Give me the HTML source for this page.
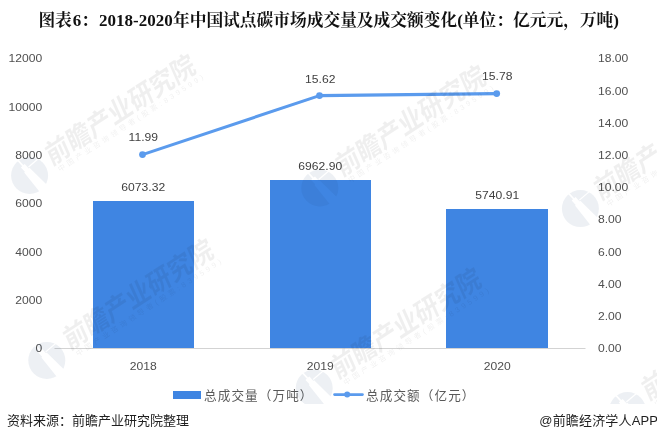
<!DOCTYPE html>
<html lang="zh-CN">
<head>
<meta charset="utf-8">
<title>图表6：2018-2020年中国试点碳市场成交量及成交额变化</title>
<style>
html,body{margin:0;padding:0;background:#fff;}
body{width:657px;height:442px;overflow:hidden;position:relative;}
svg{display:block;position:absolute;left:0;top:0;}
.ax{font-family:"Liberation Sans","Noto Sans CJK SC",sans-serif;font-size:11.3px;fill:#4f4f4f;}
.dl{font-family:"Liberation Sans","Noto Sans CJK SC",sans-serif;font-size:11.3px;fill:#404040;}
.lg{font-family:"Liberation Sans","Noto Sans CJK SC",sans-serif;font-size:12.6px;fill:#595959;letter-spacing:1.1px;}
.ft{font-family:"Liberation Sans","Noto Sans CJK SC",sans-serif;font-size:13px;fill:#1f1f1f;}
.title{font-family:"Liberation Serif","Noto Serif CJK SC",serif;font-weight:700;font-size:16.73px;fill:#111;}
.la{font-size:17px;font-weight:700;}
.wmb{font-family:"Liberation Sans","Noto Sans CJK SC",sans-serif;font-weight:bold;font-size:27px;}
.wms{font-family:"Liberation Sans","Noto Sans CJK SC",sans-serif;font-size:7.3px;}
</style>
</head>
<body>
<svg width="657" height="442" viewBox="0 0 657 442">
<defs>
<g id="wl">
  <clipPath id="lgc"><circle cx="-28.0" cy="27.0" r="18.5"/></clipPath>
  <path clip-path="url(#lgc)" fill="#1e3c78" fill-opacity="0.078" fill-rule="evenodd" d="M-48.5,6.5 h41.0 v41.0 h-41.0 Z M-40.9,9.2 L-34.2,16.6 L-32.8,15.4 L-28.8,19.9 L-28.1,19.2 L-9.5,37.4 L-17.2,44.3 L-33.4,24.0 L-32.7,23.3 L-36.7,18.9 L-35.4,17.7 L-42.1,10.3 Z M-29.5,18.1 L-18.9,9.1 L-18.1,9.9 L-28.7,18.9 Z"/>
</g>
<g id="wm">
  <g transform="rotate(-33)" fill="#000" fill-opacity="0.063">
    <text class="wmb" x="-12.6" y="10.3" transform="skewX(-9)" textLength="174" lengthAdjust="spacingAndGlyphs">前瞻产业研究院</text>
    <text class="wms" x="-10.2" y="20.1" textLength="171.5" lengthAdjust="spacing">中国产业咨询领导者(股票:839599)</text>
  </g>
</g>
<clipPath id="wmclip"><rect x="0" y="0" width="657" height="404"/></clipPath>
</defs>
<rect width="657" height="442" fill="#fff"/>

<text class="title" x="38.4" y="26.4">图表<tspan class="la" dx="0.9">6</tspan>：<tspan class="la" dx="1">2018-2020</tspan><tspan dx="0.3">年中国试点碳市场成交量及成交额变化</tspan><tspan class="la">(</tspan>单位：亿元元，万吨<tspan class="la">)</tspan></text>
<rect x="54.5" y="348" width="531" height="1" fill="#d3d3d3"/>
<rect x="93" y="201" width="101" height="147" fill="#3f85e2"/>
<rect x="270" y="180" width="101" height="168" fill="#3f85e2"/>
<rect x="446" y="209" width="102" height="139" fill="#3f85e2"/>
<polyline points="142.5,154.6 319.5,95.6 496.7,93.6" fill="none" stroke="#5b9bed" stroke-width="3.1" stroke-linejoin="round" stroke-linecap="round"/>
<circle cx="142.5" cy="154.6" r="3.4" fill="#5b9bed"/>
<circle cx="319.5" cy="95.6" r="3.4" fill="#5b9bed"/>
<circle cx="496.7" cy="93.6" r="3.4" fill="#5b9bed"/>
<text class="ax" transform="translate(42.3,351.5) scale(1.075,1)" text-anchor="end">0</text>
<text class="ax" transform="translate(42.3,304.17) scale(1.075,1)" text-anchor="end">2000</text>
<text class="ax" transform="translate(42.3,255.83) scale(1.075,1)" text-anchor="end">4000</text>
<text class="ax" transform="translate(42.3,206.6) scale(1.075,1)" text-anchor="end">6000</text>
<text class="ax" transform="translate(42.3,158.87) scale(1.075,1)" text-anchor="end">8000</text>
<text class="ax" transform="translate(42.3,110.83) scale(1.075,1)" text-anchor="end">10000</text>
<text class="ax" transform="translate(42.3,61.8) scale(1.075,1)" text-anchor="end">12000</text>
<text class="ax" transform="translate(598,352.1) scale(1.075,1)" text-anchor="start">0.00</text>
<text class="ax" transform="translate(598,319.88) scale(1.075,1)" text-anchor="start">2.00</text>
<text class="ax" transform="translate(598,287.66) scale(1.075,1)" text-anchor="start">4.00</text>
<text class="ax" transform="translate(598,256.33) scale(1.075,1)" text-anchor="start">6.00</text>
<text class="ax" transform="translate(598,223.21) scale(1.075,1)" text-anchor="start">8.00</text>
<text class="ax" transform="translate(598,190.99) scale(1.075,1)" text-anchor="start">10.00</text>
<text class="ax" transform="translate(598,158.77) scale(1.075,1)" text-anchor="start">12.00</text>
<text class="ax" transform="translate(598,126.54) scale(1.075,1)" text-anchor="start">14.00</text>
<text class="ax" transform="translate(598,95.22) scale(1.075,1)" text-anchor="start">16.00</text>
<text class="ax" transform="translate(598,62.1) scale(1.075,1)" text-anchor="start">18.00</text>
<text class="ax" transform="translate(143.3,369.6) scale(1.075,1)" text-anchor="middle">2018</text>
<text class="ax" transform="translate(320.3,369.6) scale(1.075,1)" text-anchor="middle">2019</text>
<text class="ax" transform="translate(497.3,369.6) scale(1.075,1)" text-anchor="middle">2020</text>
<text class="dl" transform="translate(143.3,191.1) scale(1.075,1)" text-anchor="middle">6073.32</text>
<text class="dl" transform="translate(320.3,170.2) scale(1.075,1)" text-anchor="middle">6962.90</text>
<text class="dl" transform="translate(497.3,199.0) scale(1.075,1)" text-anchor="middle">5740.91</text>
<text class="dl" transform="translate(143.3,140.6) scale(1.075,1)" text-anchor="middle">11.99</text>
<text class="dl" transform="translate(320.3,83.2) scale(1.075,1)" text-anchor="middle">15.62</text>
<text class="dl" transform="translate(497.3,80.2) scale(1.075,1)" text-anchor="middle">15.78</text>
<rect x="173" y="391" width="28" height="8" fill="#3f85e2"/>
<text class="lg" x="204" y="400">总成交量（万吨）</text>
<line x1="334.5" y1="394.6" x2="362.5" y2="394.6" stroke="#5b9bed" stroke-width="2.6" stroke-linecap="round"/>
<circle cx="347.2" cy="394.6" r="3" fill="#5b9bed"/>
<text class="lg" x="366" y="400">总成交额（亿元）</text>
<text class="ft" x="7" y="424.7">资料来源：前瞻产业研究院整理</text>
<text class="ft" x="539.3" y="424.7" letter-spacing="0.17">@前瞻经济学人APP</text>
<g clip-path="url(#wmclip)">
<use href="#wm" x="57.6" y="149.5"/>
<use href="#wl" x="57.6" y="148.5"/>
<use href="#wm" x="347.8" y="160.5"/>
<use href="#wl" x="347.8" y="161.0"/>
<use href="#wm" x="606.4" y="184.4"/>
<use href="#wl" x="608.4" y="181.6"/>
<use href="#wm" x="75.5" y="334"/>
<use href="#wl" x="74.8" y="333.4"/>
<use href="#wm" x="343.2" y="363"/>
<use href="#wl" x="342.2" y="361"/>
<use href="#wm" x="654" y="384.5"/>
<use href="#wl" x="655.5" y="383.5"/>
</g>
</svg>
</body>
</html>
